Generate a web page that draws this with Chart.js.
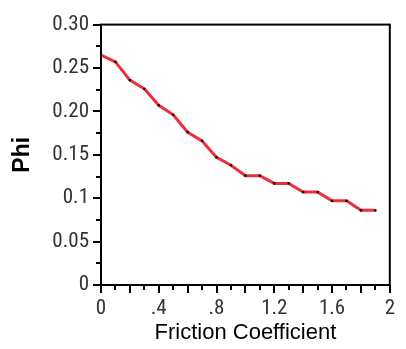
<!DOCTYPE html>
<html>
<head>
<meta charset="utf-8">
<script src="https://cdn.jsdelivr.net/npm/chart.js@4/dist/chart.umd.min.js"></script>
<style>
  html, body { margin: 0; padding: 0; background: #fff; }
  #wrap { width: 406px; height: 349px; position: relative; }
</style>
</head>
<body>
<div id="wrap"><canvas id="chart"></canvas></div>
<script>
// Friction coefficient vs Phi
const frictionValues = [0, 0.1, 0.2, 0.3, 0.4, 0.5, 0.6, 0.7, 0.8, 0.9, 1.0, 1.1, 1.2, 1.3, 1.4, 1.5, 1.6, 1.7, 1.8, 1.9]
const phiValues = [0.265, 0.257, 0.236, 0.226, 0.207, 0.196, 0.176, 0.166, 0.147, 0.138,
  0.126, 0.126, 0.117, 0.117, 0.107, 0.107, 0.097, 0.097, 0.086, 0.086]

const xTickValues = [0, 0.4, 0.8, 1.2, 1.6, 2]
const xTickLabels = ['0', '.4', '.8', '1.2', '1.6', '2']
const yTickValues = [0, 0.05, 0.1, 0.15, 0.2, 0.25, 0.3]
const yTickLabels = ['0', '0.05', '0.1', '0.15', '0.20', '0.25', '0.30']

const tickFont = { family: '"Liberation Sans Narrow", "Roboto Condensed", "DejaVu Sans Condensed", sans-serif', size: 21 }

function labelFor(values, labels, v) {
  const i = values.findIndex((t) => Math.abs(t - v) < 1e-6)
  return i === -1 ? '' : labels[i]
}

// tick marks (major/minor) and the box around the plot
const frame = {
  id: 'frame',
  afterDraw(chart) {
    const { ctx, chartArea: a, scales } = chart
    ctx.save()
    ctx.strokeStyle = '#000'
    ctx.lineWidth = 2
    ctx.strokeRect(a.left, a.top, a.right - a.left, a.bottom - a.top)
    scales.x.ticks.forEach((t) => {
      const px = Math.round(scales.x.getPixelForValue(t.value))
      const major = Math.round(t.value * 10) % 2 === 0
      ctx.beginPath()
      ctx.moveTo(px, a.bottom)
      ctx.lineTo(px, a.bottom + (major ? 8 : 5))
      ctx.stroke()
    })
    scales.y.ticks.forEach((t) => {
      const py = Math.round(scales.y.getPixelForValue(t.value))
      const major = Math.round(t.value * 1000) % 50 === 0
      ctx.beginPath()
      ctx.moveTo(a.left, py)
      ctx.lineTo(a.left - (major ? 8 : 5), py)
      ctx.stroke()
    })
    ctx.restore()
  }
}

new Chart(document.getElementById('chart').getContext('2d'), {
  type: 'line',
  data: {
    datasets: [
      {
        data: frictionValues.map((x, i) => ({ x, y: phiValues[i] })),
        borderColor: '#ec2f3a',
        borderWidth: 3,
        pointStyle: 'rect',
        pointRadius: frictionValues.map((x, i) => (i === 0 ? 0 : 1.6)),
        pointBackgroundColor: '#000',
        pointBorderWidth: 0,
        tension: 0
      }
    ]
  },
  options: {
    responsive: true,
    maintainAspectRatio: false,
    animation: false,
    layout: { padding: { top: 22, right: 14, bottom: 0, left: 0 } },
    plugins: { legend: { display: false }, tooltip: { enabled: false } },
    scales: {
      x: {
        type: 'linear',
        min: 0,
        max: 2,
        grid: { display: false, drawTicks: false },
        border: { display: false },
        ticks: {
          stepSize: 0.1,
          autoSkip: false,
          maxRotation: 0,
          padding: 11,
          color: '#333',
          font: tickFont,
          callback: (v) => labelFor(xTickValues, xTickLabels, v)
        },
        title: {
          display: true,
          text: 'Friction Coefficient',
          color: '#000',
          font: { family: '"Liberation Sans", Arial, sans-serif', size: 22 },
          padding: { top: 0, bottom: 3 }
        },
        afterFit: (scale) => { scale.height = 64 }
      },
      y: {
        min: 0,
        max: 0.3,
        grid: { display: false, drawTicks: false },
        border: { display: false },
        ticks: {
          stepSize: 0.025,
          autoSkip: false,
          padding: 12,
          color: '#333',
          font: tickFont,
          callback: (v) => labelFor(yTickValues, yTickLabels, v)
        },
        title: {
          display: true,
          text: 'Phi',
          color: '#000',
          font: { family: '"Liberation Sans", Arial, sans-serif', size: 23, weight: 'bold' },
          padding: { top: 9, bottom: 0 }
        },
        afterFit: (scale) => { scale.width = 101 }
      }
    }
  },
  plugins: [frame]
})
</script>
</body>
</html>
